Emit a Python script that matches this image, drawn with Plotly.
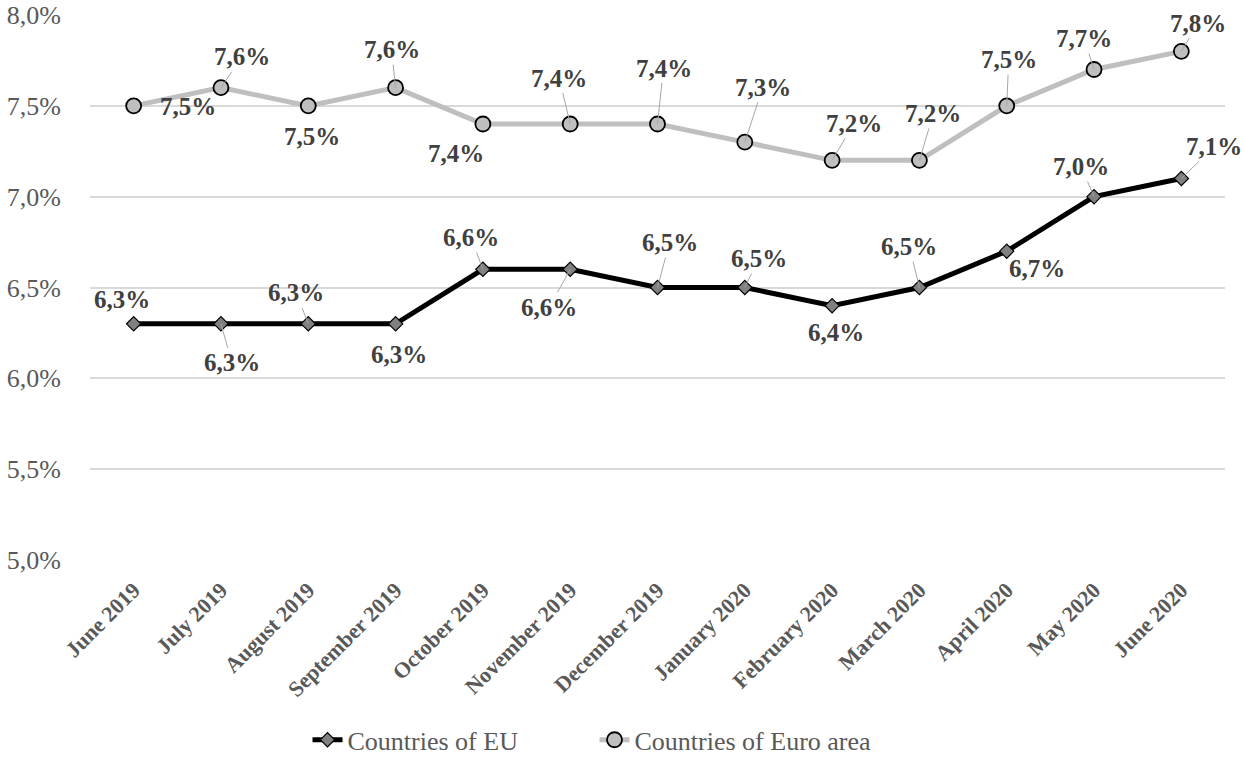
import plotly.graph_objects as go

months = ["June 2019", "July 2019", "August 2019", "September 2019", "October 2019",
          "November 2019", "December 2019", "January 2020", "February 2020",
          "March 2020", "April 2020", "May 2020", "June 2020"]
eu_values = [6.3, 6.3, 6.3, 6.3, 6.6, 6.6, 6.5, 6.5, 6.4, 6.5, 6.7, 7.0, 7.1]
euro_values = [7.5, 7.6, 7.5, 7.6, 7.4, 7.4, 7.4, 7.3, 7.2, 7.2, 7.5, 7.7, 7.8]
y_tick_values = [5.0, 5.5, 6.0, 6.5, 7.0, 7.5, 8.0]
y_tick_labels = ["5,0%", "5,5%", "6,0%", "6,5%", "7,0%", "7,5%", "8,0%"]

# label placement: (dx, dy, leader) in pixels from the point
eu_label_pos = [(-12, -24, False), (11, 39, True), (-12, -31, True), (3, 31, False),
                (-12, -32, True), (-21, 38, True), (12, -45, True), (14, -29, True),
                (4, 27, False), (-10, -41, True), (30, 17, False), (-13, -30, True),
                (33, -32, True)]
euro_label_pos = [(54, 1, False), (21, -31, True), (4, 31, False), (-4, -38, True),
                  (-27, 29, False), (-11, -46, True), (6, -56, True), (18, -55, True),
                  (22, -37, True), (14, -47, True), (2, -46, True), (-10, -31, True),
                  (17, -28, True)]

FONT = "Liberation Serif"

fig = go.Figure()
fig.add_trace(go.Scatter(
    x=months, y=eu_values, name="Countries of EU", mode="lines+markers",
    line=dict(color="#000000", width=5),
    marker=dict(symbol="diamond", size=11, color="#808080",
                line=dict(color="#000000", width=1.2)),
))
fig.add_trace(go.Scatter(
    x=months, y=euro_values, name="Countries of Euro area", mode="lines+markers",
    line=dict(color="#bfbfbf", width=5),
    marker=dict(symbol="circle", size=15, color="#bfbfbf",
                line=dict(color="#000000", width=1.8)),
))


def fmt(v):
    return f"{v:.1f}".replace(".", ",") + "%"


annotations = []
for vals, poss in ((eu_values, eu_label_pos), (euro_values, euro_label_pos)):
    for m, v, (dx, dy, leader) in zip(months, vals, poss):
        a = dict(x=m, y=v, xref="x", yref="y", text="<b>" + fmt(v) + "</b>",
                 font=dict(family=FONT, size=25, color="#404040"))
        if leader:
            a.update(showarrow=True, ax=dx, ay=dy, arrowhead=0, arrowwidth=1,
                     arrowcolor="#a6a6a6", standoff=0, startstandoff=0)
        else:
            a.update(showarrow=False, xshift=dx, yshift=-dy)
        annotations.append(a)

fig.update_layout(
    width=1244, height=766, autosize=False,
    margin=dict(l=90, r=19, t=15, b=206, autoexpand=False),
    plot_bgcolor="white", paper_bgcolor="white",
    font=dict(family=FONT, color="#595959"),
    showlegend=True,
    legend=dict(orientation="h", x=0.4445, xanchor="center", y=-0.33, yanchor="middle",
                font=dict(family=FONT, size=26, color="#595959"),
                itemwidth=30, tracegroupgap=0, entrywidth=242),
    annotations=annotations,
    xaxis=dict(type="category", range=[-0.5, len(months) - 0.5], tickangle=-45,
               showgrid=False, showline=False,
               zeroline=False, ticks="", ticklabelstandoff=12, automargin=False,
               tickfont=dict(family=FONT, size=22, color="#595959", weight="bold")),
    yaxis=dict(range=[5, 8], tickvals=y_tick_values, ticktext=y_tick_labels,
               showgrid=True, gridcolor="#d9d9d9", gridwidth=1.5, zeroline=False,
               showline=False, ticks="", ticklabelstandoff=28, automargin=False,
               ticklabeloverflow="allow",
               tickfont=dict(family=FONT, size=26, color="#595959")),
)

fig.write_html("out.html", config={"displayModeBar": False},
               post_script="document.body.style.margin='0';")
